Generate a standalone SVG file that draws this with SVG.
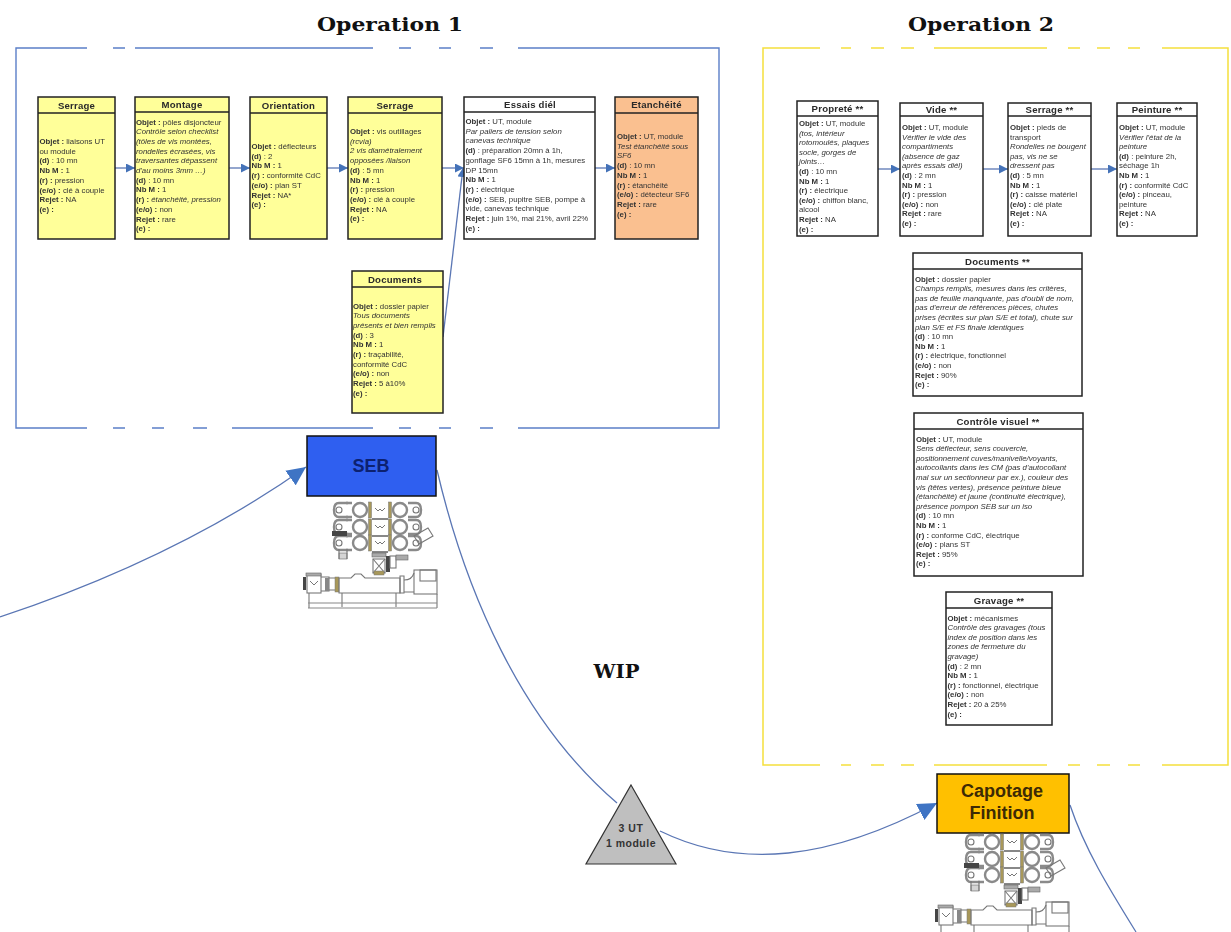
<svg xmlns="http://www.w3.org/2000/svg" width="1231" height="932" viewBox="0 0 1231 932">
<style>
text{font-family:"Liberation Sans",Arial,sans-serif;fill:#2a2a2a}
.t{font-family:"DejaVu Serif",Cambria,serif;font-weight:bold;font-size:19px;fill:#111;text-anchor:middle}
.box{stroke:#222;stroke-width:1.5}
.y{fill:#ffff99}.w{fill:#fff}.o{fill:#fac090}
.h{font-size:9.6px;font-weight:bold;text-anchor:middle;letter-spacing:.2px;filter:url(#s)}
.l{font-size:7.8px;fill:#333;filter:url(#s)}
.b{font-weight:bold}.i{font-style:italic}
.c{fill:none;stroke:#5a76b4;stroke-width:1.3}
.fb{fill:none;stroke:#5b7fc8;stroke-width:1.4}
.fy{fill:none;stroke:#f5e03c;stroke-width:1.5}
.m{fill:none;stroke:#777;stroke-width:1.1}
.r{fill:none;stroke:#8a8a8a;stroke-width:2.4}
.mf{fill:#aaa;stroke:#666;stroke-width:.6}
.g{fill:#a8985a;stroke:#777;stroke-width:.5}
.d{fill:#444}
#machine{filter:url(#s)}
</style>
<defs>
<filter id="s" x="-5%" y="-5%" width="110%" height="110%"><feGaussianBlur stdDeviation="0.35"/></filter>
<marker id="a" markerUnits="userSpaceOnUse" markerWidth="10" markerHeight="9" refX="9" refY="4.500" orient="auto"><path d="M0 0L9 4.500L0 9z" fill="#4472b8"/></marker>
<marker id="A" markerUnits="userSpaceOnUse" markerWidth="20" markerHeight="18" refX="19" refY="9" orient="auto"><path d="M0 0L19 9L0 18z" fill="#3f74c4"/></marker>
<g id="row">
<path class="r" d="M348 -7h-9q-5 0 -5 7t5 7h9"/>
<circle class="m" cx="339" cy="0" r="3"/>
<circle class="r" cx="360" cy="0" r="7"/>
<path class="r" d="M346 -7h6M346 7h6"/>
<rect class="g" x="368.500" y="-8" width="3" height="16"/>
<rect class="g" x="388.500" y="-8" width="3" height="16"/>
<path d="M375 -2l3 3l2 -2l2 2l3 -3" stroke="#777" fill="none" stroke-width="1"/>
<circle class="r" cx="400" cy="0" r="7"/>
<path class="r" d="M408 -7h8q5 0 5 7t-5 7h-8"/>
<circle class="m" cx="416" cy="0" r="3"/>
</g>
<g id="machine">
<use href="#row" y="510"/><use href="#row" y="527"/><use href="#row" y="543"/>
<path d="M372 519h16M372 536h16M372 552h16" stroke="#888" stroke-width="2" fill="none"/>
<rect x="332" y="531" width="15" height="5" class="d"/>
<path class="m" d="M414 536l14 -8l5 8l-14 8z"/>
<rect x="339" y="553" width="8" height="6" class="mf" fill-opacity=".5"/>
<path class="m" d="M339 549v10M347 549v10"/>
<rect x="372" y="553" width="14" height="4" class="mf"/>
<rect x="373" y="559" width="12" height="14" class="m"/>
<path class="m" d="M373 559l12 14M385 559l-12 14"/>
<rect x="386" y="556" width="4" height="16" class="d"/>
<rect x="390" y="556" width="6" height="12" class="m"/>
<rect x="396" y="555" width="12" height="5" class="mf"/>
<rect x="374" y="571" width="10" height="4" class="g"/>
<rect x="303" y="577" width="3" height="13" class="d"/>
<rect x="307" y="574" width="14" height="19" class="m"/>
<rect x="306" y="573" width="15" height="3" class="mf"/>
<path d="M310 581l4 4l4 -4" stroke="#777" fill="none"/>
<path class="m" d="M321 577h8v14h-8M329 578h8v12h-8"/>
<rect x="325" y="578" width="4" height="13" fill="#888"/>
<rect x="335" y="577" width="4" height="15" class="g"/>
<path class="m" d="M339 578h12l4 -4h6l4 4h35v15h-61z"/>
<path class="m" d="M400 576h4v17h-4z"/>
<path class="m" d="M404 580q8 0 10 -7M404 592h10"/>
<rect class="m" x="414" y="570" width="23" height="24"/>
<rect class="m" x="420" y="570" width="16" height="11"/>
<path class="m" d="M309 593v15M437 594v14M342 593v14M396 593v14"/>
<path d="M308 603h129M308 608h129" fill="none" stroke="#888" stroke-width="1.200"/>
</g>
</defs>
<rect width="1231" height="932" fill="#fff"/>
<text class="t" x="390" y="31" textLength="146" lengthAdjust="spacingAndGlyphs">Operation 1</text>
<text class="t" x="981" y="31" textLength="146" lengthAdjust="spacingAndGlyphs">Operation 2</text>
<text class="t" x="616.500" y="678" textLength="46" lengthAdjust="spacingAndGlyphs">WIP</text>

<g id="frame-op1">
<path class="fb" d="M87 48H16V428H87M113 428h12M152 428h12M193 428h14M232 428H373M399 428h12M439 428h12M480 428h13M518 428H719V48H518M493 48h-13M451 48h-12M411 48h-12M373 48H135M125 48h-12"/>
</g>
<g id="frame-op2">
<path class="fy" d="M820 48H763V765H820M841 765h10M871 765h13M901 765h13M934 765H1047M1068 765h12M1097 765h13M1128 765h12M1162 765H1228V48H1162M1140 48h-12M1110 48h-13M1080 48h-12M1047 48H934M914 48h-13M884 48h-13M851 48h-10"/>
</g>

<g id="connectors">
<path class="c" marker-end="url(#a)" d="M115 168H135"/>
<path class="c" marker-end="url(#a)" d="M229 168H250"/>
<path class="c" marker-end="url(#a)" d="M327 168H348"/>
<path class="c" marker-end="url(#a)" d="M442 168H464"/>
<path class="c" marker-end="url(#a)" d="M443 337L463 168"/>
<path class="c" marker-end="url(#a)" d="M595 168H615"/>
<path class="c" marker-end="url(#a)" d="M878 169H900"/>
<path class="c" marker-end="url(#a)" d="M983 169H1008"/>
<path class="c" marker-end="url(#a)" d="M1091 169H1117"/>
<path class="c" marker-end="url(#A)" d="M0 617C120 577 220 528 306 467"/>
<path class="c" d="M437 470C465 590 520 720 617 803"/>
<path class="c" marker-end="url(#A)" d="M660 831C740 870 830 860 937 803"/>
<path class="c" d="M1070 805C1085 850 1110 890 1136 932"/>
</g>

<g id="n-serrage1"><rect class="box y" x="38" y="97" width="77" height="142"/><path class="box" d="M38 113H115"/><text class="h" x="76.500" y="108.500">Serrage</text>
<text class="l" x="39.500" y="144"><tspan class="b">Objet :</tspan> liaisons UT<tspan x="39.500" dy="9.700">ou module</tspan><tspan x="39.500" dy="9.700" class="b">(d)</tspan> : 10 mn<tspan x="39.500" dy="9.700" class="b">Nb M :</tspan> 1<tspan x="39.500" dy="9.700" class="b">(r) :</tspan> pression<tspan x="39.500" dy="9.700" class="b">(e/o) :</tspan> clé à couple<tspan x="39.500" dy="9.700" class="b">Rejet :</tspan> NA<tspan x="39.500" dy="9.700" class="b">(e) :</tspan></text></g>

<g id="n-montage"><rect class="box y" x="135" y="97" width="94" height="142"/><path class="box" d="M135 112H229"/><text class="h" x="182" y="108">Montage</text>
<text class="l" x="136" y="124.500"><tspan class="b">Objet :</tspan> pôles disjoncteur<tspan x="136" dy="9.700" class="i">Contrôle selon checklist</tspan><tspan x="136" dy="9.700" class="i">(tôles de vis montées,</tspan><tspan x="136" dy="9.700" class="i">rondelles écrasées, vis</tspan><tspan x="136" dy="9.700" class="i">traversantes dépassent</tspan><tspan x="136" dy="9.700" class="i">d'au moins 3mm …)</tspan><tspan x="136" dy="9.700" class="b">(d)</tspan> : 10 mn<tspan x="136" dy="9.700" class="b">Nb M :</tspan> 1<tspan x="136" dy="9.700" class="b">(r) :</tspan> <tspan class="i">étanchéité, pression</tspan><tspan x="136" dy="9.700" class="b">(e/o) :</tspan> non<tspan x="136" dy="9.700" class="b">Rejet :</tspan> rare<tspan x="136" dy="9.700" class="b">(e) :</tspan></text></g>

<g id="n-orientation"><rect class="box y" x="250" y="97" width="77" height="142"/><path class="box" d="M250 113H327"/><text class="h" x="288.500" y="108.500">Orientation</text>
<text class="l" x="251.500" y="149"><tspan class="b">Objet :</tspan> déflecteurs<tspan x="251.500" dy="9.700" class="b">(d)</tspan> : 2<tspan x="251.500" dy="9.700" class="b">Nb M :</tspan> 1<tspan x="251.500" dy="9.700" class="b">(r) :</tspan> conformité CdC<tspan x="251.500" dy="9.700" class="b">(e/o) :</tspan> plan ST<tspan x="251.500" dy="9.700" class="b">Rejet :</tspan> NA*<tspan x="251.500" dy="9.700" class="b">(e) :</tspan></text></g>

<g id="n-serrage2"><rect class="box y" x="348" y="97" width="94" height="142"/><path class="box" d="M348 113H442"/><text class="h" x="395" y="108.500">Serrage</text>
<text class="l" x="350" y="134"><tspan class="b">Objet :</tspan> vis outillages<tspan x="350" dy="9.700" class="i">(rcvia)</tspan><tspan x="350" dy="9.700" class="i">2 vis diamétralement</tspan><tspan x="350" dy="9.700" class="i">opposées /liaison</tspan><tspan x="350" dy="9.700" class="b">(d)</tspan> : 5 mn<tspan x="350" dy="9.700" class="b">Nb M :</tspan> 1<tspan x="350" dy="9.700" class="b">(r) :</tspan> pression<tspan x="350" dy="9.700" class="b">(e/o) :</tspan> clé à couple<tspan x="350" dy="9.700" class="b">Rejet :</tspan> NA<tspan x="350" dy="9.700" class="b">(e) :</tspan></text></g>

<g id="n-essais"><rect class="box w" x="464" y="97" width="131" height="142"/><path class="box" d="M464 112H595"/><text class="h" x="530" y="107.500">Essais diél</text>
<text class="l" x="465.500" y="124"><tspan class="b">Objet :</tspan> UT, module<tspan x="465.500" dy="9.700" class="i">Par paliers de tension selon</tspan><tspan x="465.500" dy="9.700" class="i">canevas technique</tspan><tspan x="465.500" dy="9.700" class="b">(d)</tspan> : préparation 20mn à 1h,<tspan x="465.500" dy="9.700">gonflage SF6 15mn à 1h, mesures</tspan><tspan x="465.500" dy="9.700">DP 15mn</tspan><tspan x="465.500" dy="9.700" class="b">Nb M :</tspan> 1<tspan x="465.500" dy="9.700" class="b">(r) :</tspan> électrique<tspan x="465.500" dy="9.700" class="b">(e/o) :</tspan> SEB, pupitre SEB, pompe à<tspan x="465.500" dy="9.700">vide, canevas technique</tspan><tspan x="465.500" dy="9.700" class="b">Rejet :</tspan> juin 1%, mai 21%, avril 22%<tspan x="465.500" dy="9.700" class="b">(e) :</tspan></text></g>

<g id="n-etancheite"><rect class="box o" x="615" y="97" width="83" height="142"/><path class="box" d="M615 113H698"/><text class="h" x="656.500" y="108">Etanchéité</text>
<text class="l" x="617" y="139"><tspan class="b">Objet :</tspan> UT, module<tspan x="617" dy="9.700" class="i">Test étanchéité sous</tspan><tspan x="617" dy="9.700" class="i">SF6</tspan><tspan x="617" dy="9.700" class="b">(d)</tspan> : 10 mn<tspan x="617" dy="9.700" class="b">Nb M :</tspan> 1<tspan x="617" dy="9.700" class="b">(r) :</tspan> étanchéité<tspan x="617" dy="9.700" class="b">(e/o) :</tspan> détecteur SF6<tspan x="617" dy="9.700" class="b">Rejet :</tspan> rare<tspan x="617" dy="9.700" class="b">(e) :</tspan></text></g>

<g id="n-documents1"><rect class="box y" x="352" y="271" width="91" height="142"/><path class="box" d="M352 287H443"/><text class="h" x="395" y="282.500">Documents</text>
<text class="l" x="353" y="308.500"><tspan class="b">Objet :</tspan> dossier papier<tspan x="353" dy="9.700" class="i">Tous documents</tspan><tspan x="353" dy="9.700" class="i">présents et bien remplis</tspan><tspan x="353" dy="9.700" class="b">(d)</tspan> : 3<tspan x="353" dy="9.700" class="b">Nb M :</tspan> 1<tspan x="353" dy="9.700" class="b">(r) :</tspan> traçabilité,<tspan x="353" dy="9.700">conformité CdC</tspan><tspan x="353" dy="9.700" class="b">(e/o) :</tspan> non<tspan x="353" dy="9.700" class="b">Rejet :</tspan> 5 à10%<tspan x="353" dy="9.700" class="b">(e) :</tspan></text></g>

<g id="n-proprete"><rect class="box w" x="797" y="101" width="81" height="135"/><path class="box" d="M797 116H878"/><text class="h" x="837.500" y="112">Propreté **</text>
<text class="l" x="799" y="126"><tspan class="b">Objet :</tspan> UT, module<tspan x="799" dy="9.600" class="i">(tos, intérieur</tspan><tspan x="799" dy="9.600" class="i">rotomoulés, plaques</tspan><tspan x="799" dy="9.600" class="i">socle, gorges de</tspan><tspan x="799" dy="9.600" class="i">joints…</tspan><tspan x="799" dy="9.600" class="b">(d)</tspan> : 10 mn<tspan x="799" dy="9.600" class="b">Nb M :</tspan> 1<tspan x="799" dy="9.600" class="b">(r) :</tspan> électrique<tspan x="799" dy="9.600" class="b">(e/o) :</tspan> chiffon blanc,<tspan x="799" dy="9.600">alcool</tspan><tspan x="799" dy="9.600" class="b">Rejet :</tspan> NA<tspan x="799" dy="9.600" class="b">(e) :</tspan></text></g>

<g id="n-vide"><rect class="box w" x="900" y="103" width="83" height="133"/><path class="box" d="M900 116H983"/><text class="h" x="941.500" y="112.500">Vide **</text>
<text class="l" x="902" y="130"><tspan class="b">Objet :</tspan> UT, module<tspan x="902" dy="9.600" class="i">Vérifier le vide des</tspan><tspan x="902" dy="9.600" class="i">compartiments</tspan><tspan x="902" dy="9.600" class="i">(absence de gaz</tspan><tspan x="902" dy="9.600" class="i">après essais diél)</tspan><tspan x="902" dy="9.600" class="b">(d)</tspan> : 2 mn<tspan x="902" dy="9.600" class="b">Nb M :</tspan> 1<tspan x="902" dy="9.600" class="b">(r) :</tspan> pression<tspan x="902" dy="9.600" class="b">(e/o) :</tspan> non<tspan x="902" dy="9.600" class="b">Rejet :</tspan> rare<tspan x="902" dy="9.600" class="b">(e) :</tspan></text></g>

<g id="n-serrage3"><rect class="box w" x="1008" y="103" width="83" height="133"/><path class="box" d="M1008 116H1091"/><text class="h" x="1049.500" y="112.500">Serrage **</text>
<text class="l" x="1010" y="130"><tspan class="b">Objet :</tspan> pieds de<tspan x="1010" dy="9.600">transport</tspan><tspan x="1010" dy="9.600" class="i">Rondelles ne bougent</tspan><tspan x="1010" dy="9.600" class="i">pas, vis ne se</tspan><tspan x="1010" dy="9.600" class="i">dressent pas</tspan><tspan x="1010" dy="9.600" class="b">(d)</tspan> : 5 mn<tspan x="1010" dy="9.600" class="b">Nb M :</tspan> 1<tspan x="1010" dy="9.600" class="b">(r) :</tspan> caisse matériel<tspan x="1010" dy="9.600" class="b">(e/o) :</tspan> clé plate<tspan x="1010" dy="9.600" class="b">Rejet :</tspan> NA<tspan x="1010" dy="9.600" class="b">(e) :</tspan></text></g>

<g id="n-peinture"><rect class="box w" x="1117" y="103" width="80" height="133"/><path class="box" d="M1117 116H1197"/><text class="h" x="1157" y="112.500">Peinture **</text>
<text class="l" x="1119" y="130"><tspan class="b">Objet :</tspan> UT, module<tspan x="1119" dy="9.600" class="i">Vérifier l'état de la</tspan><tspan x="1119" dy="9.600" class="i">peinture</tspan><tspan x="1119" dy="9.600" class="b">(d)</tspan> : peinture 2h,<tspan x="1119" dy="9.600">séchage 1h</tspan><tspan x="1119" dy="9.600" class="b">Nb M :</tspan> 1<tspan x="1119" dy="9.600" class="b">(r) :</tspan> conformité CdC<tspan x="1119" dy="9.600" class="b">(e/o) :</tspan> pinceau,<tspan x="1119" dy="9.600">peinture</tspan><tspan x="1119" dy="9.600" class="b">Rejet :</tspan> NA<tspan x="1119" dy="9.600" class="b">(e) :</tspan></text></g>

<g id="n-documents2"><rect class="box w" x="913" y="253" width="169" height="143"/><path class="box" d="M913 269H1082"/><text class="h" x="997.500" y="264.500">Documents **</text>
<text class="l" x="915" y="281.500"><tspan class="b">Objet :</tspan> dossier papier<tspan x="915" dy="9.600" class="i">Champs remplis, mesures dans les critères,</tspan><tspan x="915" dy="9.600" class="i">pas de feuille manquante, pas d'oubli de nom,</tspan><tspan x="915" dy="9.600" class="i">pas d'erreur de références pièces, chutes</tspan><tspan x="915" dy="9.600" class="i">prises (écrites sur plan S/E et total), chute sur</tspan><tspan x="915" dy="9.600" class="i">plan S/E et FS finale identiques</tspan><tspan x="915" dy="9.600" class="b">(d)</tspan> : 10 mn<tspan x="915" dy="9.600" class="b">Nb M :</tspan> 1<tspan x="915" dy="9.600" class="b">(r) :</tspan> électrique, fonctionnel<tspan x="915" dy="9.600" class="b">(e/o) :</tspan> non<tspan x="915" dy="9.600" class="b">Rejet :</tspan> 90%<tspan x="915" dy="9.600" class="b">(e) :</tspan></text></g>

<g id="n-controle"><rect class="box w" x="914" y="413" width="169" height="163"/><path class="box" d="M914 429H1083"/><text class="h" x="998" y="424.500">Contrôle visuel **</text>
<text class="l" x="916" y="441.500"><tspan class="b">Objet :</tspan> UT, module<tspan x="916" dy="9.600" class="i">Sens déflecteur, sens couvercle,</tspan><tspan x="916" dy="9.600" class="i">positionnement cuves/manivelle/voyants,</tspan><tspan x="916" dy="9.600" class="i">autocollants dans les CM (pas d'autocollant</tspan><tspan x="916" dy="9.600" class="i">mal sur un sectionneur par ex.), couleur des</tspan><tspan x="916" dy="9.600" class="i">vis (têtes vertes), présence peinture bleue</tspan><tspan x="916" dy="9.600" class="i">(étanchéité) et jaune (continuité électrique),</tspan><tspan x="916" dy="9.600" class="i">présence pompon SEB sur un iso</tspan><tspan x="916" dy="9.600" class="b">(d)</tspan> : 10 mn<tspan x="916" dy="9.600" class="b">Nb M :</tspan> 1<tspan x="916" dy="9.600" class="b">(r) :</tspan> conforme CdC, électrique<tspan x="916" dy="9.600" class="b">(e/o) :</tspan> plans ST<tspan x="916" dy="9.600" class="b">Rejet :</tspan> 95%<tspan x="916" dy="9.600" class="b">(e) :</tspan></text></g>

<g id="n-gravage"><rect class="box w" x="946" y="592" width="106" height="133"/><path class="box" d="M946 608H1052"/><text class="h" x="999" y="604">Gravage **</text>
<text class="l" x="947.500" y="620.500"><tspan class="b">Objet :</tspan> mécanismes<tspan x="947.500" dy="9.600" class="i">Contrôle des gravages (tous</tspan><tspan x="947.500" dy="9.600" class="i">index de position dans les</tspan><tspan x="947.500" dy="9.600" class="i">zones de fermeture du</tspan><tspan x="947.500" dy="9.600" class="i">gravage)</tspan><tspan x="947.500" dy="9.600" class="b">(d)</tspan> : 2 mn<tspan x="947.500" dy="9.600" class="b">Nb M :</tspan> 1<tspan x="947.500" dy="9.600" class="b">(r) :</tspan> fonctionnel, électrique<tspan x="947.500" dy="9.600" class="b">(e/o) :</tspan> non<tspan x="947.500" dy="9.600" class="b">Rejet :</tspan> 20 à 25%<tspan x="947.500" dy="9.600" class="b">(e) :</tspan></text></g>

<g id="n-seb"><rect x="307" y="436" width="129" height="60" fill="#2f5ff0" stroke="#111" stroke-width="1.500"/><text x="371" y="471.500" text-anchor="middle" font-size="18" font-weight="bold" style="fill:#0c2170">SEB</text></g>
<use id="machine-seb" href="#machine"/>

<g id="n-capotage"><rect x="937" y="774" width="132" height="59" fill="#ffc000" stroke="#111" stroke-width="1.500"/><text x="1002" y="797" text-anchor="middle" font-size="18" font-weight="bold" style="fill:#3d2a05">Capotage</text><text x="1002" y="819" text-anchor="middle" font-size="18" font-weight="bold" style="fill:#3d2a05">Finition</text></g>
<use id="machine-capotage" href="#machine" x="632" y="332"/>

<g id="n-wip"><path d="M631 785L676 864H586z" fill="#bfbfbf" stroke="#333" stroke-width="1.200"/><text x="631" y="832" text-anchor="middle" font-size="10.500" font-weight="bold" letter-spacing=".5" style="fill:#333">3 UT</text><text x="631" y="847" text-anchor="middle" font-size="10.500" font-weight="bold" letter-spacing=".5" style="fill:#333">1 module</text></g>
</svg>
